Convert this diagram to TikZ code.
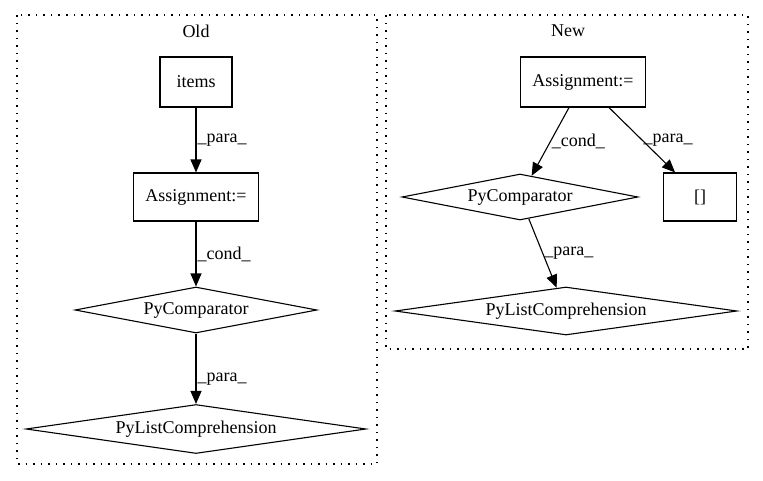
\documentclass[tikz,border=0pt]{standalone}
\usepackage{fontspec}
\setmainfont{Liberation Serif}
\usetikzlibrary{arrows.meta,shapes.geometric}

\begin{document}
\begin{tikzpicture}[x=1pt, y=-1pt, font=\fontsize{18}{21}\selectfont,
	arrows={-Triangle[length=13pt,width=11pt]}, line width=1.1pt,
	box/.style={draw, rectangle, minimum height=50pt, inner sep=0pt},
	cmp/.style={draw, diamond, inner sep=0pt},
	cluster/.style={draw, -, dash pattern=on 1.5pt off 6pt},
	lbl/.style={right, inner sep=1pt}]
	\useasboundingbox (0,0) rectangle (763,480);

	% clusters
	\draw [cluster] (17,15) rectangle (377,464);
	\draw [cluster] (386,15) rectangle (748,349);
	\node (told) at (196,31) {Old};
	\node (tnew) at (568,31) {New};

	% old
	\node [box, minimum width=72pt] (items) at (196,82) {items};
	\node [box, minimum width=125pt, minimum height=48pt] (oassign) at (196,197) {Assignment:=};
	\node [cmp, aspect=5.3, minimum width=242pt, minimum height=46pt] (ocomp) at (196,310) {PyComparator};
	\node [cmp, aspect=7, minimum width=340pt, minimum height=49pt] (olist) at (196,429) {PyListComprehension};

	\draw (items) to node [lbl] {\_para\_} (oassign);
	\draw (oassign) to node [lbl] {\_cond\_} (ocomp);
	\draw (ocomp) to node [lbl, pos=0.65] {\_para\_} (olist);

	% new
	\node [box, minimum width=125pt] (nassign) at (583,82) {Assignment:=};
	\node [cmp, aspect=5.1, minimum width=236pt, minimum height=46pt] (ncomp) at (520,197) {PyComparator};
	\node [box, minimum width=73pt, minimum height=48pt] (nidx) at (700,197) {[]};
	\node [cmp, aspect=7, minimum width=342pt, minimum height=48pt] (nlist) at (566,311) {PyListComprehension};

	\draw (nassign) to node [lbl] {\_cond\_} (ncomp);
	\draw (nassign) to node [lbl] {\_para\_} (nidx);
	\draw (ncomp) to node [lbl] {\_para\_} (nlist);
\end{tikzpicture}
\end{document}
